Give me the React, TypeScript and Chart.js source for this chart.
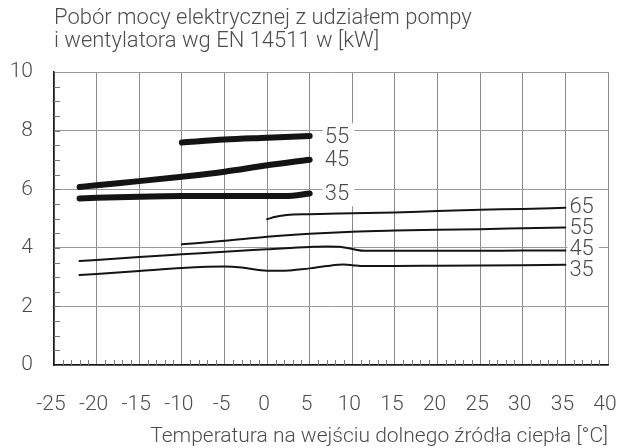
import React, { useEffect, useRef } from "react";
import { Chart, registerables } from "chart.js";

Chart.register(...registerables);

// ---------- text ----------
const titleLines = [
  "Pobór mocy elektrycznej z udziałem pompy",
  "i wentylatora wg EN 14511 w [kW]",
];
const xAxisTitle = "Temperatura na wejściu dolnego źródła ciepła [°C]";

// ---------- axes ----------
const xMin = -25;
const xMax = 40;
const xStep = 5;
const yMin = 0;
const yMax = 10;
const yStep = 2;

// ---------- thick curves ----------
const thick35X = [-22, -20, -15, -10, -5, 0, 3, 5];
const thick35Y = [5.69, 5.71, 5.75, 5.77, 5.77, 5.77, 5.78, 5.86];

const thick45X = [-22, -20, -15, -10, -5, 0, 5];
const thick45Y = [6.08, 6.14, 6.28, 6.43, 6.6, 6.82, 7.01];

const thick55X = [-10, -5, 0, 5];
const thick55Y = [7.6, 7.7, 7.76, 7.82];

// ---------- thin curves ----------
const thin35X = [-22, -20, -15, -10, -5, -3, 0, 2, 4, 5, 7, 9, 10, 11, 15, 20, 25, 30, 35];
const thin35Y = [3.07, 3.11, 3.21, 3.31, 3.36, 3.33, 3.22, 3.22, 3.27, 3.3, 3.38, 3.43, 3.41, 3.38, 3.38, 3.39, 3.4, 3.41, 3.42];

const thin45X = [-22, -20, -15, -10, -5, 0, 5, 7, 8.5, 10, 11.5, 15, 20, 25, 30, 35];
const thin45Y = [3.55, 3.59, 3.69, 3.78, 3.87, 3.95, 4.03, 4.05, 4.04, 3.96, 3.9, 3.9, 3.9, 3.9, 3.91, 3.91];

const thin55X = [-10, -5, 0, 5, 10, 15, 20, 25, 30, 35];
const thin55Y = [4.12, 4.24, 4.38, 4.48, 4.55, 4.59, 4.62, 4.64, 4.67, 4.7];

const thin65X = [0, 1, 2.3, 5, 10, 15, 20, 25, 30, 35];
const thin65Y = [4.98, 5.06, 5.12, 5.15, 5.18, 5.21, 5.26, 5.3, 5.33, 5.37];

const curveNames = ["55", "45", "35", "65", "55", "45", "35"];

const FONT = "Roboto, 'Liberation Sans', Arial, sans-serif";
const TEXT = "#4d4d4d";

const zip = (xs: number[], ys: number[]) => xs.map((x, i) => ({ x, y: ys[i] }));

const curves = [
  { name: curveNames[0], data: zip(thick55X, thick55Y), thick: true },
  { name: curveNames[1], data: zip(thick45X, thick45Y), thick: true },
  { name: curveNames[2], data: zip(thick35X, thick35Y), thick: true },
  { name: curveNames[3], data: zip(thin65X, thin65Y), thick: false },
  { name: curveNames[4], data: zip(thin55X, thin55Y), thick: false },
  { name: curveNames[5], data: zip(thin45X, thin45Y), thick: false },
  { name: curveNames[6], data: zip(thin35X, thin35Y), thick: false },
];

const minorTicks = {
  id: "minorTicks",
  beforeDatasetsDraw(chart: any) {
    const { ctx, chartArea, scales } = chart;
    const xs = scales.x;
    const ys = scales.y;
    ctx.save();
    ctx.strokeStyle = "#777";
    ctx.lineWidth = 1;
    ctx.beginPath();
    for (let v = yMin + 0.5; v < yMax; v += 0.5) {
      const py = Math.round(ys.getPixelForValue(v)) + 0.5;
      ctx.moveTo(chartArea.left, py);
      ctx.lineTo(chartArea.left + 6, py);
    }
    for (let v = xMin + 1; v < xMax; v += 1) {
      if (v % xStep === 0) continue;
      const px = Math.round(xs.getPixelForValue(v)) + 0.5;
      ctx.moveTo(px, chartArea.bottom);
      ctx.lineTo(px, chartArea.bottom - 5);
    }
    ctx.stroke();
    ctx.restore();
  },
};

const curveLabels = {
  id: "curveLabels",
  afterDatasetsDraw(chart: any) {
    const { ctx } = chart;
    ctx.save();
    ctx.font = `300 22px ${FONT}`;
    ctx.textBaseline = "middle";
    ctx.textAlign = "left";
    const groups: Record<string, any[]> = { thick: [], thin: [] };
    chart.data.datasets.forEach((ds: any, i: number) => {
      const meta = chart.getDatasetMeta(i);
      const last = meta.data[meta.data.length - 1];
      groups[ds.thick ? "thick" : "thin"].push({
        text: ds.label,
        x: last.x + (ds.thick ? 15 : 4),
        y: last.y,
      });
    });
    Object.values(groups).forEach((items) => {
      items.sort((a, b) => a.y - b.y);
      const gap = 21;
      for (let it = 0; it < 30; it++) {
        for (let k = 0; k < items.length - 1; k++) {
          const d = items[k + 1].y - items[k].y;
          if (d < gap) {
            const m = (gap - d) / 2;
            items[k].y -= m;
            items[k + 1].y += m;
          }
        }
      }
      // one white backing box per label group (hides the grid behind the labels)
      let x0 = Infinity, x1 = -Infinity, y0 = Infinity, y1 = -Infinity;
      items.forEach((l) => {
        const w = ctx.measureText(l.text).width;
        x0 = Math.min(x0, l.x - 2);
        x1 = Math.max(x1, l.x + w + 5);
        y0 = Math.min(y0, l.y - 13);
        y1 = Math.max(y1, l.y + 13);
      });
      ctx.fillStyle = "#fff";
      ctx.fillRect(x0, y0, x1 - x0, y1 - y0);
      ctx.fillStyle = TEXT;
      items.forEach((l) => ctx.fillText(l.text, l.x, l.y + 1));
    });
    ctx.restore();
  },
};

export default function App() {
  const ref = useRef<HTMLCanvasElement | null>(null);
  useEffect(() => {
    if (!ref.current) return;
    const chart = new Chart(ref.current, {
      type: "line",
      data: {
        datasets: curves.map((c) => ({
          label: c.name,
          data: c.data,
          thick: c.thick,
          borderColor: "#141414",
          borderWidth: c.thick ? 6 : 2,
          borderCapStyle: "round",
          borderJoinStyle: "round",
          pointRadius: 0,
          fill: false,
          cubicInterpolationMode: "monotone",
        })) as any,
      },
      options: {
        animation: false,
        responsive: true,
        maintainAspectRatio: false,
        layout: { padding: { left: 0, right: 9, top: 0, bottom: 0 } },
        plugins: {
          legend: { display: false },
          tooltip: { enabled: false },
          title: {
            display: true,
            text: titleLines,
            align: "start",
            fullSize: false,
            color: TEXT,
            font: { family: FONT, size: 22, weight: "300" as any, lineHeight: 1.05 },
            padding: { top: 7, bottom: 19 },
          },
        },
        scales: {
          x: {
            type: "linear",
            min: xMin,
            max: xMax,
            afterFit(scale: any) {
              scale.height = 83;
              scale.paddingLeft = 0;
              scale.paddingRight = 0;
            },
            ticks: {
              stepSize: xStep,
              autoSkip: false,
              maxRotation: 0,
              padding: 27,
              labelOffset: -3,
              color: TEXT,
              font: { family: FONT, size: 21, weight: "300" as any },
            },
            grid: { color: "#8a8a8a", lineWidth: 1, drawTicks: false },
            border: { color: "#1a1a1a", width: 1.5 },
            title: {
              display: true,
              text: xAxisTitle,
              align: "end",
              color: TEXT,
              font: { family: FONT, size: 21, weight: "300" as any, lineHeight: 1.1 },
              padding: { top: 2, bottom: 0 },
            },
          },
          y: {
            type: "linear",
            min: yMin,
            max: yMax,
            afterFit(scale: any) {
              scale.width = 54;
              scale.paddingTop = 0;
              scale.paddingBottom = 0;
            },
            ticks: {
              stepSize: yStep,
              padding: 21,
              color: TEXT,
              font: { family: FONT, size: 21, weight: "300" as any },
            },
            grid: { color: "#9a9a9a", lineWidth: 1, drawTicks: false },
            border: { color: "#1a1a1a", width: 1.5 },
          },
        },
      },
      plugins: [minorTicks, curveLabels],
    });
    return () => chart.destroy();
  }, []);
  return (
    <div style={{ position: "fixed", left: 0, top: 0, width: 617, height: 448, background: "#fff" }}>
      <canvas ref={ref} />
    </div>
  );
}
